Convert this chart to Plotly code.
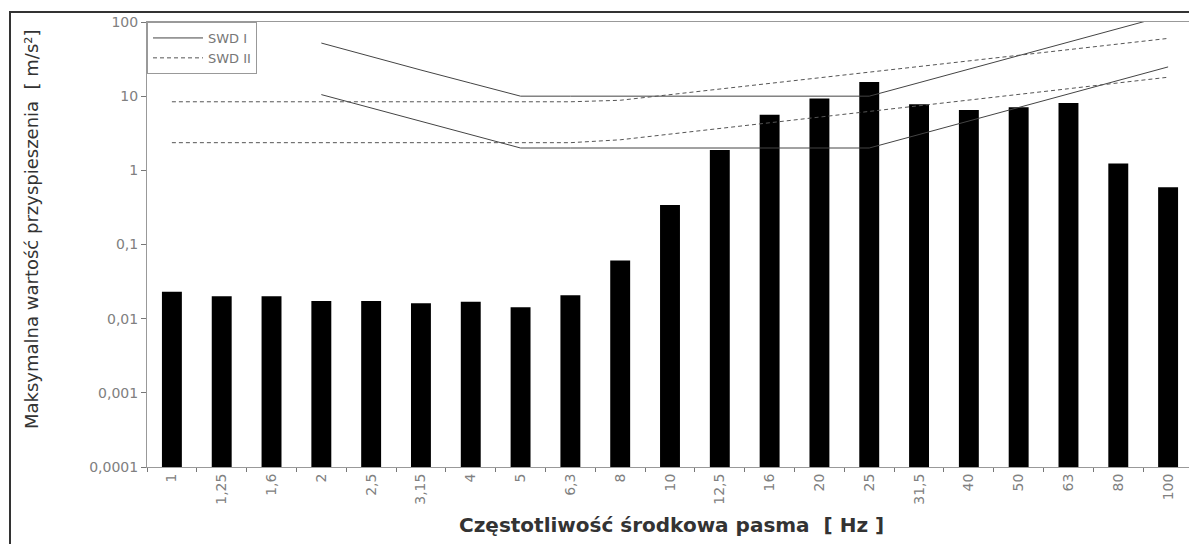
import plotly.graph_objects as go

categories = ["1", "1,25", "1,6", "2", "2,5", "3,15", "4", "5", "6,3", "8", "10",
              "12,5", "16", "20", "25", "31,5", "40", "50", "63", "80", "100"]
bar_values = [0.023, 0.020, 0.020, 0.0173, 0.0173, 0.0161, 0.0169, 0.0143, 0.0207,
              0.061, 0.34, 1.88, 5.6, 9.3, 15.5, 7.8, 6.5, 7.1, 8.1, 1.24, 0.59]

swd1_upper = [None, None, None, 52, 34, 22.5, 15, 10, 10, 10, 10, 10, 10, 10, 10,
              15.2, 23.1, 35.2, 53.5, 81.4, 124]
swd1_lower = [None, None, None, 10.5, 6.9, 4.6, 3.0, 2, 2, 2, 2, 2, 2, 2, 2,
              3.04, 4.63, 7.04, 10.7, 16.3, 24.8]
swd2_upper = [8.4, 8.4, 8.4, 8.4, 8.4, 8.4, 8.4, 8.4, 8.4, 8.8, 10.5, 12.4, 14.8,
              17.7, 21.0, 25.1, 29.9, 35.6, 42.4, 50.5, 60.1]
swd2_lower = [2.36, 2.36, 2.36, 2.36, 2.36, 2.36, 2.36, 2.36, 2.36, 2.58, 3.07, 3.67,
              4.38, 5.22, 6.23, 7.43, 8.87, 10.6, 12.6, 15.1, 18.0]

y_tickvals = [0.0001, 0.001, 0.01, 0.1, 1, 10, 100]
y_ticktext = ["0,0001", "0,001", "0,01", "0,1", "1", "10", "100"]

FONT = "DejaVu Sans, Verdana, sans-serif"
OFF = 8  # default body margin of the page
W, H = 1197 - OFF, 544 - OFF
ML, MT = 147 - OFF, 22 - OFF
PW, PH = 1046, 445
MR, MB = W - ML - PW, H - MT - PH

fig = go.Figure()
fig.add_trace(go.Bar(x=categories, y=bar_values, marker=dict(color="#000000", line=dict(width=0)),
                     showlegend=False))
fig.add_trace(go.Scatter(x=categories, y=swd1_upper, mode="lines", name="SWD I",
                         line=dict(color="#444444", width=1), legendgroup="a"))
fig.add_trace(go.Scatter(x=categories, y=swd1_lower, mode="lines", name="SWD I",
                         line=dict(color="#444444", width=1), legendgroup="a", showlegend=False))
fig.add_trace(go.Scatter(x=categories, y=swd2_upper, mode="lines", name="SWD II",
                         line=dict(color="#555555", width=1, dash="4px,3px"), legendgroup="b"))
fig.add_trace(go.Scatter(x=categories, y=swd2_lower, mode="lines", name="SWD II",
                         line=dict(color="#555555", width=1, dash="4px,3px"), legendgroup="b",
                         showlegend=False))

fig.update_layout(
    width=W, height=H,
    margin=dict(l=ML, r=MR, t=MT, b=MB, pad=0),
    paper_bgcolor="white", plot_bgcolor="white",
    font=dict(family=FONT, color="#555555", size=12),
    bargap=0.6,
    legend=dict(x=0, y=1, xanchor="left", yanchor="top", bgcolor="white",
                bordercolor="#999999", borderwidth=1, font=dict(size=13, color="#777777"),
                itemwidth=50, tracegroupgap=0),
    xaxis=dict(type="category", range=[-0.5, 20.5], showline=True, linecolor="#999999",
               linewidth=1, mirror=True, ticks="outside", ticklen=4, tickcolor="#777777",
               tickson="boundaries", tickangle=-90, showgrid=False, zeroline=False,
               tickfont=dict(size=14, color="#808080")),
    yaxis=dict(type="log", range=[-4, 2], showline=True, linecolor="#999999", linewidth=1,
               mirror=True, ticks="outside", ticklen=5, tickcolor="#777777",
               tickvals=y_tickvals, ticktext=y_ticktext, showgrid=False, zeroline=False,
               tickfont=dict(size=14, color="#808080")),
    annotations=[
        dict(text="Maksymalna wartość przyspieszenia  [ m/s²]", textangle=-90,
             xref="paper", yref="paper", x=(31 - OFF - ML) / PW, y=(467 - 229) / PH,
             xanchor="center", yanchor="middle", showarrow=False,
             font=dict(size=18, color="#333333")),
        dict(text="<b>Częstotliwość środkowa pasma  [ Hz ]</b>",
             xref="paper", yref="paper", x=(671 - 147) / PW, y=(467 - 525) / PH,
             xanchor="center", yanchor="middle", showarrow=False,
             font=dict(size=20, color="#333333")),
    ],
    shapes=[dict(type="rect", xref="paper", yref="paper",
                 x0=(10 - 147) / PW, x1=1.05, y0=-0.25, y1=1 + 10 / PH,
                 line=dict(color="#333333", width=2), layer="below")],
)

fig.write_html("out.html")
